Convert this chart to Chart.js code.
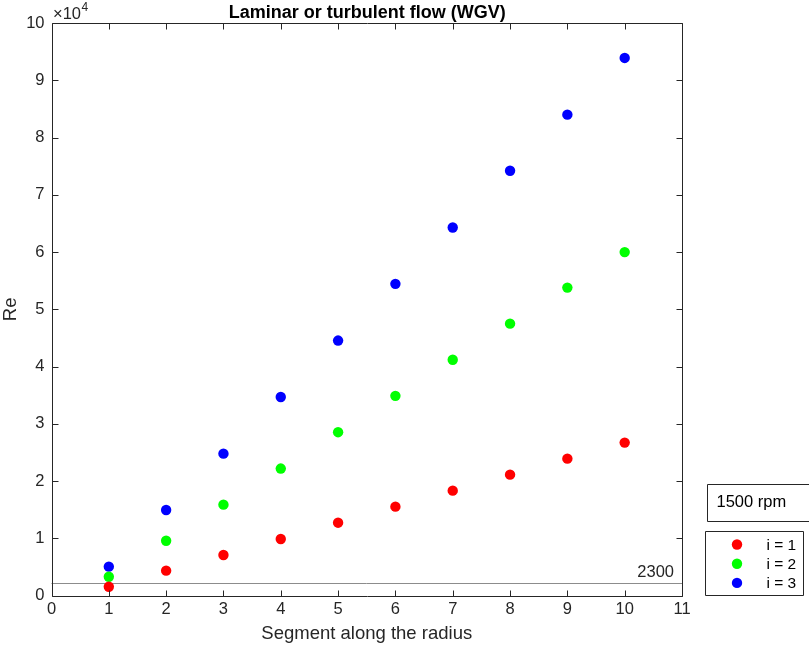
<!DOCTYPE html>
<html>
<head>
<meta charset="utf-8">
<script src="https://cdn.jsdelivr.net/npm/chart.js@4"></script>
<style>
html,body{margin:0;padding:0;background:#fff;}
#wrap{position:relative;width:809px;height:646px;}
canvas{display:block;}
</style>
</head>
<body>
<div id="wrap"><canvas id="c" width="809" height="646"></canvas></div>
<script>
const segments = [1,2,3,4,5,6,7,8,9,10];
const re_i1 = [1570,4370,7110,9900,12750,15550,18340,21140,23930,26730];
const re_i2 = [3300,9600,15900,22200,28550,34900,41200,47500,53800,60000];
const re_i3 = [5070,14970,24800,34700,44550,54450,64300,74200,84000,93900];
const seriesLabels = ['i = 1','i = 2','i = 3'];
const seriesColors = ['#ff0000','#00ff00','#0000ff'];
const threshold = 2300;
const titleText = 'Laminar or turbulent flow (WGV)';
const xTitle = 'Segment along the radius';
const yTitle = 'Re';
const infoText = '1500 rpm';
const xTicks = [0,1,2,3,4,5,6,7,8,9,10,11];
const yTicks = [0,1,2,3,4,5,6,7,8,9,10];

const FONT = '"Liberation Sans", Arial, Helvetica, sans-serif';
const AX = '#262626';
const TICKSZ = 16.5;

const seriesData = [re_i1, re_i2, re_i3];
const datasets = seriesData.map((arr, k) => ({
  label: seriesLabels[k],
  data: arr.map((v, i) => ({x: segments[i], y: v})),
  showLine: false,
  pointRadius: 5.2,
  pointHoverRadius: 5.2,
  pointBackgroundColor: seriesColors[k],
  pointBorderColor: seriesColors[k],
  pointBorderWidth: 0,
  backgroundColor: seriesColors[k],
  borderColor: seriesColors[k]
}));

const matlabAxes = {
  id: 'matlabAxes',
  beforeDatasetsDraw(chart) {
    const {ctx, chartArea: a, scales: {x, y}} = chart;
    ctx.save();
    const ty = Math.round(y.getPixelForValue(threshold)) + 0.5;
    ctx.strokeStyle = '#8c8c8c';
    ctx.lineWidth = 1;
    ctx.beginPath();
    ctx.moveTo(a.left, ty);
    ctx.lineTo(a.right, ty);
    ctx.stroke();
    ctx.fillStyle = AX;
    ctx.font = TICKSZ + 'px ' + FONT;
    ctx.textAlign = 'right';
    ctx.textBaseline = 'alphabetic';
    ctx.fillText(String(threshold), a.right - 8, ty - 7);
    ctx.restore();
  },
  afterDraw(chart) {
    const {ctx, chartArea: a, scales: {x, y}} = chart;
    ctx.save();
    ctx.strokeStyle = AX;
    ctx.lineWidth = 1;
    const L = Math.round(a.left) + 0.5, R = Math.round(a.right) + 0.5;
    const T = Math.round(a.top) + 0.5, B = Math.round(a.bottom) + 0.5;
    ctx.beginPath();
    ctx.moveTo(L, T); ctx.lineTo(R, T); ctx.lineTo(R, B); ctx.lineTo(L, B); ctx.closePath();
    ctx.stroke();
    const tl = 6;
    ctx.beginPath();
    xTicks.forEach(v => {
      const px = Math.round(x.getPixelForValue(v)) + 0.5;
      ctx.moveTo(px, B); ctx.lineTo(px, B - tl);
      ctx.moveTo(px, T); ctx.lineTo(px, T + tl);
    });
    yTicks.forEach(v => {
      const py = Math.round(y.getPixelForValue(v * 10000)) + 0.5;
      ctx.moveTo(L, py); ctx.lineTo(L + tl, py);
      ctx.moveTo(R, py); ctx.lineTo(R - tl, py);
    });
    ctx.stroke();
    // title
    ctx.fillStyle = '#000';
    ctx.font = 'bold 18px ' + FONT;
    ctx.textAlign = 'center';
    ctx.textBaseline = 'alphabetic';
    ctx.fillText(titleText, (a.left + a.right) / 2 + 0.5, 18);
    // exponent label
    ctx.fillStyle = AX;
    ctx.textAlign = 'left';
    ctx.font = TICKSZ + 'px ' + FONT;
    ctx.fillText('\u00d710', a.left + 1.5, 19);
    const w = ctx.measureText('\u00d710').width;
    ctx.font = '12px ' + FONT;
    ctx.fillText('4', a.left + 1.5 + w + 0.5, 11);
    // info box
    ctx.strokeStyle = AX;
    ctx.fillStyle = '#fff';
    ctx.beginPath();
    ctx.rect(707.5, 484.5, 110, 37);
    ctx.fill(); ctx.stroke();
    ctx.fillStyle = '#000';
    ctx.font = TICKSZ + 'px ' + FONT;
    ctx.textBaseline = 'middle';
    ctx.fillText(infoText, 716.5, 502);
    // legend box
    ctx.fillStyle = '#fff';
    ctx.beginPath();
    ctx.rect(705.5, 531.5, 98, 64);
    ctx.fill(); ctx.stroke();
    chart.data.datasets.forEach((ds, k) => {
      const cy = 544.5 + k * 19.2;
      ctx.fillStyle = ds.pointBackgroundColor;
      ctx.beginPath();
      ctx.arc(737, cy, 5.2, 0, Math.PI * 2);
      ctx.fill();
      ctx.fillStyle = '#000';
      ctx.font = '15.5px ' + FONT;
      ctx.textAlign = 'left';
      ctx.fillText(ds.label, 766.5, cy + 1);
    });
    ctx.restore();
  }
};

new Chart(document.getElementById('c'), {
  type: 'scatter',
  data: {datasets},
  options: {
    responsive: false,
    animation: false,
    events: [],
    layout: {padding: {top: 23, right: 127, left: 0, bottom: 0}},
    plugins: {legend: {display: false}, tooltip: {enabled: false}, title: {display: false}},
    scales: {
      x: {
        type: 'linear', min: 0, max: 11,
        afterFit(s) { s.height = 50.3; },
        afterBuildTicks(s) { s.ticks = xTicks.map(v => ({value: v})); },
        grid: {display: false, drawTicks: false},
        border: {display: false},
        ticks: {color: AX, font: {size: TICKSZ, family: FONT}, padding: 4, maxRotation: 0, autoSkip: false},
        title: {display: true, text: xTitle, color: AX, font: {size: 18.5, family: FONT}, padding: {top: 0, bottom: 1}}
      },
      y: {
        type: 'linear', min: 0, max: 100000,
        afterFit(s) { s.width = 51.5; },
        afterBuildTicks(s) { s.ticks = yTicks.map(v => ({value: v * 10000})); },
        grid: {display: false, drawTicks: false},
        border: {display: false},
        ticks: {color: AX, font: {size: TICKSZ, family: FONT}, padding: 7, callback: v => String(v / 10000), autoSkip: false},
        title: {display: true, text: yTitle, color: AX, font: {size: 18.5, family: FONT}, padding: {top: 0, bottom: 0}}
      }
    }
  },
  plugins: [matlabAxes]
});
</script>
</body>
</html>
